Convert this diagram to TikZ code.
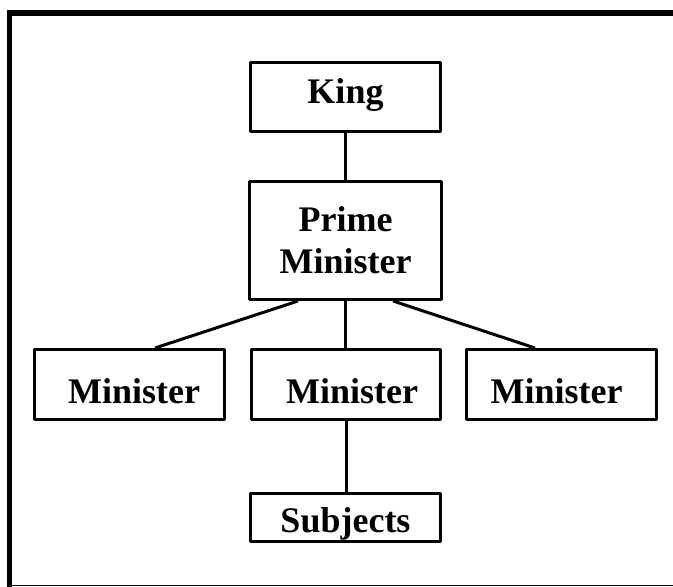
\documentclass[tikz,border=0pt]{standalone}
\usepackage{fontspec}
\setmainfont{Liberation Serif}

\begin{document}
\begin{tikzpicture}[
    x = 1pt, y = -1pt,
    rank/.style = {
        rectangle, draw, line width = 3pt, line join = round,
        minimum width = 190pt, inner sep = 0pt,
        font = \fontsize{36}{42}\selectfont\bfseries
    },
    minister/.style = {
        rank, minimum height = 70pt,
        text height = 37pt, text depth = 0pt
    },
    link/.style = {line width = 3pt}
]

\useasboundingbox (0,0) rectangle (673,587);

% --- Frame round the chart ---
\draw[line width = 6pt] (7,13) -- (673,13);
\draw[line width = 5pt] (9.5,10) -- (9.5,587);
\draw[line width = 1.2pt] (9.5,585.5) -- (673,585.5);

% --- Nodes placed by absolute coordinates (pt, y downwards) ---
\node[rank, minimum height = 69pt, text height = 24pt, text depth = 12pt]
    (king) at (345.5, 97) {King};

\node[rank, minimum width = 192pt, minimum height = 118pt, align = center]
    (pm) at (345.5, 240.5) {Prime\\Minister};

\node[minister] (minL) at (129.5, 384.5) {\hspace*{9pt}Minister};

\node[minister, minimum width = 189pt]
    (minM) at (346, 384.5) {\hspace*{12pt}Minister};

\node[minister] (minR) at (561.5, 384.5) {Minister\hspace*{10pt}};

\node[rank, minimum height = 48pt, text height = 30pt, text depth = 0pt]
    (subj) at (345.5, 517) {Subjects};

% --- Connectors ---
\draw[link] (king) -- (pm);

\draw[link] ([xshift=-47.5pt]pm.south) -- ([xshift=25.5pt]minL.north);
\draw[link] (pm.south) -- (pm.south |- minM.north);
\draw[link] ([xshift=47.5pt]pm.south) -- ([xshift=-26.5pt]minR.north);

\draw[link] (minM.south) -- (minM.south |- subj.north);

\end{tikzpicture}
\end{document}
